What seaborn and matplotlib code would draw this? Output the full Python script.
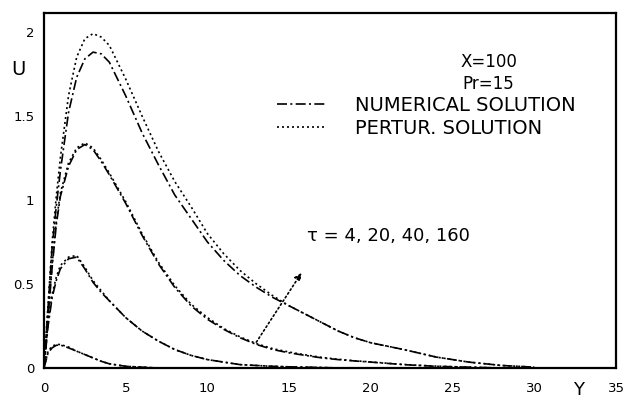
import numpy as np
import pandas as pd
import matplotlib
matplotlib.use("Agg")
import matplotlib.pyplot as plt
from matplotlib.lines import Line2D
import seaborn as sns

# --- values (X=100, Pr=15) ---
y_coord = [0, 0.25, 0.5, 0.75, 1, 1.5, 2, 2.5, 3, 3.5, 4, 5, 6, 7, 8, 9, 10,
           11, 12, 13, 14, 15, 16, 17, 18, 19, 20, 22, 24, 26, 28, 30]

num_tau160 = [0, .36, .72, .96, 1.17, 1.52, 1.73, 1.84, 1.88, 1.87, 1.82, 1.62, 1.40, 1.21, 1.03,
              .89, .75, .64, .55, .48, .42, .37, .32, .27, .22, .18, .15, .11, .065, .035, .015, .005]
pert_tau160 = [0, .38, .75, 1.02, 1.25, 1.62, 1.85, 1.96, 1.99, 1.97, 1.92, 1.72, 1.50, 1.29, 1.11,
               .96, .80, .68, .58, .50, .43, .37, .32, .27, .22, .18, .15, .11, .065, .035, .015, .005]
num_tau40 = [0, .30, .60, .85, 1.02, 1.20, 1.30, 1.33, 1.30, 1.23, 1.15, .98, .79, .62, .48,
             .37, .29, .23, .18, .14, .11, .09, .075, .06, .05, .042, .035, .02, .01, .005, 0, 0]
pert_tau40 = [0, .32, .62, .87, 1.04, 1.22, 1.31, 1.34, 1.31, 1.24, 1.16, .99, .80, .63, .49,
              .38, .30, .235, .185, .145, .115, .095, .078, .063, .052, .043, .036, .021, .011, .005, 0, 0]
num_tau20 = [0, .25, .42, .52, .59, .65, .66, .59, .51, .45, .40, .30, .22, .16, .11,
             .075, .05, .035, .02, .015, .01, .007, .005, .003, 0, 0, 0, 0, 0, 0, 0, 0]
pert_tau20 = [0, .27, .44, .54, .61, .66, .67, .60, .52, .46, .40, .30, .22, .16, .11,
              .075, .05, .035, .02, .015, .01, .007, .005, .003, 0, 0, 0, 0, 0, 0, 0, 0]
num_tau4 = [0, .09, .12, .135, .137, .12, .10, .08, .06, .04, .025, .01, .005, 0, 0,
            0, 0, 0, 0, 0, 0, 0, 0, 0, 0, 0, 0, 0, 0, 0, 0, 0]
pert_tau4 = [0, .10, .13, .14, .14, .125, .10, .08, .06, .04, .025, .01, .005, 0, 0,
             0, 0, 0, 0, 0, 0, 0, 0, 0, 0, 0, 0, 0, 0, 0, 0, 0]

x_ticks = [0, 5, 10, 15, 20, 25, 30, 35]
y_ticks = [0, 0.5, 1, 1.5, 2]
y_tick_labels = ["0", "0.5", "1", "1.5", "2"]

series = {
    ("numerical", 4): num_tau4, ("perturbation", 4): pert_tau4,
    ("numerical", 20): num_tau20, ("perturbation", 20): pert_tau20,
    ("numerical", 40): num_tau40, ("perturbation", 40): pert_tau40,
    ("numerical", 160): num_tau160, ("perturbation", 160): pert_tau160,
}
frames = []
for (method, tau), vals in series.items():
    frames.append(pd.DataFrame({"Y": y_coord, "U": vals, "method": method, "tau": tau}))
df = pd.concat(frames, ignore_index=True)

sns.set_style("white")
plt.rcParams["font.family"] = ["DejaVu Sans"]
plt.rcParams["text.color"] = "black"
plt.rcParams["axes.labelcolor"] = "black"

fig = plt.figure(figsize=(6.23, 4.01), dpi=100)
ax = fig.add_axes([0.0706, 0.0823, 0.9182, 0.8853])

styles = {"numerical": (0, (6, 2, 1.2, 2)), "perturbation": (0, (1.2, 1.8))}
for (method, tau), sub in df.groupby(["method", "tau"]):
    sns.lineplot(data=sub, x="Y", y="U", ax=ax, color="black", linewidth=1.2,
                 linestyle=styles[method], legend=False)

ax.set_xlim(0, 35)
ax.set_ylim(0, 2.113)
ax.set_xticks(x_ticks)
ax.set_yticks(y_ticks)
ax.set_yticklabels(y_tick_labels)
ax.tick_params(direction="in", length=4, width=1, labelsize=9.5, colors="black")
ax.tick_params(axis="x", pad=10)
ax.tick_params(axis="y", pad=7)
for sp in ax.spines.values():
    sp.set_color("black")
    sp.set_linewidth(1.6)

ax.set_xlabel("Y", fontsize=13, va="center")
ax.xaxis.set_label_coords(0.934, -0.062)
ax.set_ylabel("U", fontsize=14, rotation=0, va="center")
ax.yaxis.set_label_coords(-0.045, 0.84)

ax.text(27.2, 1.82, "X=100", fontsize=12, ha="center", va="center")
ax.text(27.2, 1.69, "Pr=15", fontsize=12, ha="center", va="center")

handles = [Line2D([], [], color="black", linewidth=1.2, linestyle=styles["numerical"]),
           Line2D([], [], color="black", linewidth=1.2, linestyle=styles["perturbation"])]
leg = ax.legend(handles, ["NUMERICAL SOLUTION", "PERTUR. SOLUTION"], loc="center left",
                bbox_to_anchor=(0.407, 0.708), frameon=False, fontsize=14,
                handlelength=2.5, handletextpad=1.5, labelspacing=0.2,
                borderpad=0, borderaxespad=0)
for t in leg.get_texts():
    t.set_color("black")

ax.annotate("", xy=(15.85, 0.58), xytext=(12.9, 0.14),
            arrowprops=dict(arrowstyle="-|>", linestyle=":", color="black",
                            linewidth=1.2, mutation_scale=10))
ax.text(16.1, 0.786, "\u03c4 = 4, 20, 40, 160", fontsize=13, ha="left", va="center")

fig.savefig("out.png", dpi=100)
